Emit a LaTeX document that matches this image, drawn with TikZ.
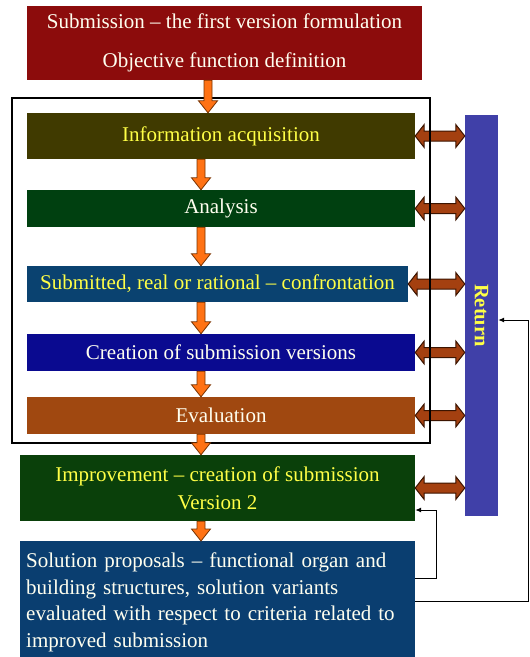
\documentclass[tikz,border=0pt]{standalone}
\usepackage{fontspec}
\setmainfont{Liberation Serif}
\usetikzlibrary{calc,arrows.meta}

\definecolor{topred}{RGB}{140,12,12}
\definecolor{infoolive}{RGB}{64,58,0}
\definecolor{anagreen}{RGB}{0,64,16}
\definecolor{subblue}{RGB}{10,66,112}
\definecolor{crenavy}{RGB}{10,10,144}
\definecolor{evabrown}{RGB}{160,72,16}
\definecolor{impgreen}{RGB}{10,64,10}
\definecolor{solblue}{RGB}{10,62,112}
\definecolor{retblue}{RGB}{64,64,168}
\definecolor{wayfill}{RGB}{164,64,16}
\definecolor{wayrim}{RGB}{60,20,0}
\definecolor{downfill}{RGB}{255,114,20}
\definecolor{downrim}{RGB}{120,50,0}
\definecolor{txtyellow}{RGB}{255,255,70}
\definecolor{txtwhite}{RGB}{255,255,240}

\tikzset{
  stage/.style={rectangle, inner sep=0pt, minimum width=388pt,
    font=\fontsize{21}{25}\selectfont, text=txtwhite},
  twoway/.style={fill=wayfill, draw=wayrim, line width=1pt, line join=miter},
  downway/.style={fill=downfill, draw=downrim, line width=0.8pt},
  back/.style={draw=black, line width=1pt, -{Latex[length=6pt,width=5pt]}},
}

%% fat arrow with two heads, from #1 (left) to #2 (right)
\newcommand{\twoway}[2]{%
  \filldraw[twoway] (#1) -- ($(#1)+(9,-11.5)$) -- ($(#1)+(9,-5)$)
    -- ($(#2)+(-9,-5)$) -- ($(#2)+(-9,-11.5)$) -- (#2)
    -- ($(#2)+(-9,11.5)$) -- ($(#2)+(-9,5)$)
    -- ($(#1)+(9,5)$) -- ($(#1)+(9,11.5)$) -- cycle;}
%% fat arrow pointing down, from #1 to #2
\newcommand{\downway}[2]{%
  \filldraw[downway] ($(#1)+(-4,0)$) -- ($(#2)+(-4,-12)$) -- ($(#2)+(-9.5,-12)$)
    -- (#2) -- ($(#2)+(9.5,-12)$) -- ($(#2)+(4,-12)$) -- ($(#1)+(4,0)$) -- cycle;}

\begin{document}
\begin{tikzpicture}[x=1pt, y=-1pt]
        \useasboundingbox (0,0) rectangle (530,657);
        \clip (0,0) rectangle (530,657);
        %% stages
        \node[stage, fill=topred, minimum width=395pt, minimum height=74pt, align=center,
          font=\fontsize{21}{38.5}\selectfont] (top) at (224.5,43)
          {Submission – the first version formulation\\Objective function definition};
        \node[stage, fill=infoolive, minimum height=46pt, text=txtyellow] (info) at (221,136) {Information acquisition};
        \node[stage, fill=anagreen, minimum height=37pt] (ana) at (221,208.5) {Analysis};
        \node[stage, fill=subblue, minimum width=381pt, minimum height=36pt, text=txtyellow] (conf) at (217.5,284)
          {Submitted, real or rational – confrontation};
        \node[stage, fill=crenavy, minimum height=37pt] (cre) at (221,352.5) {Creation of submission versions};
        \node[stage, fill=evabrown, minimum height=37pt] (eva) at (221,415.5) {Evaluation};
        \node[stage, fill=impgreen, minimum width=395pt, minimum height=66pt, align=center, text=txtyellow,
          font=\fontsize{21}{28}\selectfont] (imp) at (217.5,488)
          {Improvement – creation of submission\\Version 2};
        \node[stage, fill=solblue, anchor=north west, text width=383pt, inner xsep=6pt, inner ysep=11.5pt,
          align=left, font=\fontsize{21}{26.7}\selectfont] (sol) at (20,541)
          {Solution proposals – functional organ and\\building structures, solution variants\\evaluated with respect to criteria related to\\improved submission};
        %% return bar
        \node[rectangle, fill=retblue, minimum width=33pt, minimum height=401pt, inner sep=0pt] (ret) at (481.5,315.5) {};
        \node[rotate=-90, text=txtyellow, font=\fontsize{20.5}{25}\selectfont\bfseries] (rettext) at (ret.center) {Return};
        %% arrows to and from the return bar
        \foreach \n in {info,ana,conf,cre,eva,imp} {\twoway{\n.east}{\n.east -| ret.west}}
        %% frame round the loop
        \node[draw=black, line width=1.5pt, minimum width=418pt, minimum height=345pt, inner sep=0pt] (frame) at (221,270.5) {};
        %% flow down
        \coordinate (colA) at (208,0);
        \coordinate (colB) at (201,0);
        \downway{top.south -| colA}{info.north -| colA}
        \foreach \a/\b in {info/ana,ana/conf,conf/cre,cre/eva,eva/imp,imp/sol} {\downway{\a.south -| colB}{\b.north -| colB}}
        %% feedback lines
        \coordinate (loopA) at (436,510);
        \coordinate (loopB) at (528,320);
        \draw[back] ([yshift=-37pt]sol.north east) -| (loopA) -- (loopA -| imp.east);
        \draw[back] ([yshift=-60pt]sol.north east) -| (loopB) -- (loopB -| ret.east);
    \end{tikzpicture}
\end{document}
